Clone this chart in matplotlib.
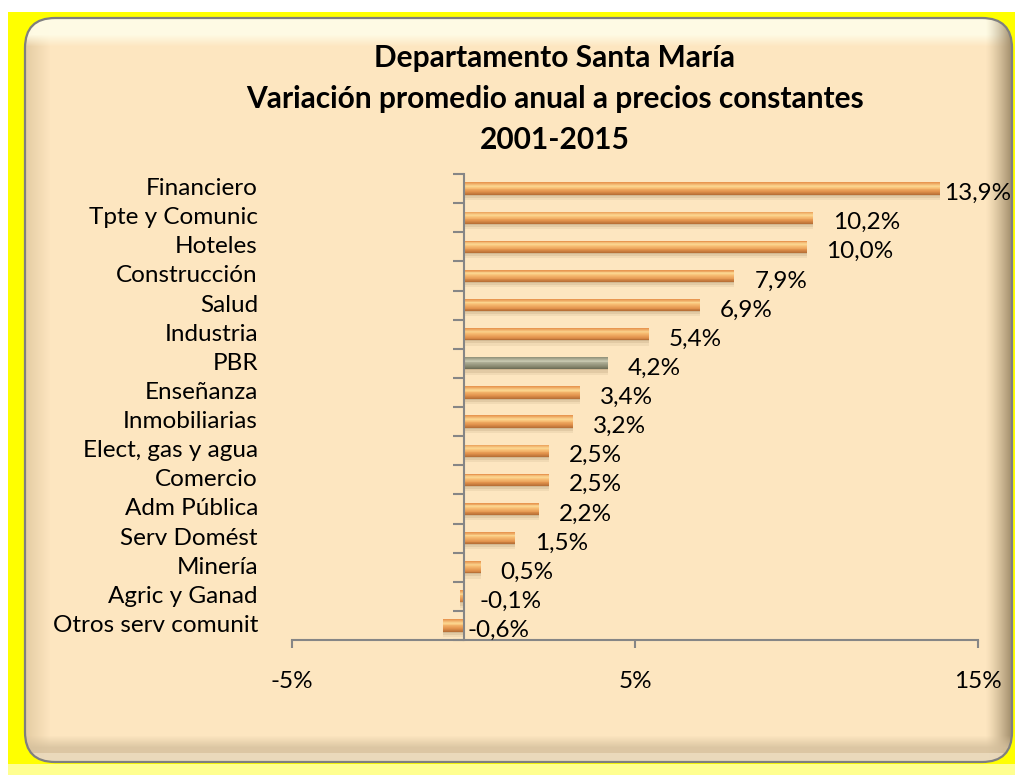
import matplotlib
matplotlib.use("Agg")
import matplotlib.pyplot as plt
import numpy as np
from matplotlib.patches import FancyBboxPatch, Rectangle
from matplotlib.transforms import blended_transform_factory
from matplotlib.colors import to_rgb, LinearSegmentedColormap

plt.rcParams['font.family'] = ['Lato', 'DejaVu Sans']

categories = ["Financiero", "Tpte y Comunic", "Hoteles", "Construcción", "Salud",
              "Industria", "PBR", "Enseñanza", "Inmobiliarias", "Elect, gas y agua",
              "Comercio", "Adm Pública", "Serv Domést", "Minería", "Agric y Ganad",
              "Otros serv comunit"]
values = [13.9, 10.2, 10.0, 7.9, 6.9, 5.4, 4.2, 3.4, 3.2, 2.5, 2.5, 2.2, 1.5, 0.5, -0.1, -0.6]
highlight = "PBR"
xticks = [-5, 5, 15]
xticklabels = ["-5%", "5%", "15%"]
title_lines = ["Departamento Santa María",
               "Variación promedio anual a precios constantes",
               "2001-2015"]

W, H = 1015, 775
fig = plt.figure(figsize=(W / 100, H / 100), dpi=100)
fig.patch.set_facecolor("white")

# ---------- background frame (pixel coordinates) ----------
bg = fig.add_axes([0, 0, 1, 1])
bg.axis("off")
bg.add_patch(Rectangle((8, 12), W - 8, H - 12, facecolor="#FFFF00", edgecolor="none"))
bg.add_patch(Rectangle((8, 764), W - 8, 11, facecolor="#FFFF90", edgecolor="none"))

fx0, fy0, fx1, fy1, rad = 25, 18, 1012, 762, 30
yy, xx = np.mgrid[0:H, 0:W].astype(float)
cream = np.array(to_rgb("#FDE6C0"))
img = np.ones((H, W, 3)) * cream


def blend(img, mask_w, col):
    c = np.array(to_rgb(col))
    w = np.clip(np.nan_to_num(mask_w), 0, 1)[..., None]
    return img * (1 - w) + c * w

img = blend(img, np.clip((50 - xx) / 24, 0, 1), "#E6CDA4")          # left bevel
img = blend(img, np.clip((46 - yy) / 12, 0, 1) * 0.95, "#FFFCE6")   # top highlight
img = blend(img, np.clip((xx - 985) / 27, 0, 1) ** 1.3, "#9E8A68")  # right shadow
img = blend(img, np.clip((yy - 735) / 12, 0, 1) * 0.8, "#D4BF9C")   # bottom bevel
img = blend(img, (yy > 752) * 0.6, "#F4E6CC")

frame = FancyBboxPatch((fx0 + rad, fy0 + rad), fx1 - fx0 - 2 * rad, fy1 - fy0 - 2 * rad,
                       boxstyle=f"round,pad={rad}", facecolor="none",
                       edgecolor="#7F7F7F", linewidth=1.6, zorder=3)
bg.add_patch(frame)
im = bg.imshow(img, extent=(0, W, H, 0), origin="upper", zorder=2,
               interpolation="bilinear", aspect="auto")
im.set_clip_path(frame)
bg.set_xlim(0, W)
bg.set_ylim(H, 0)

# ---------- main axes ----------
x0, x1 = 292, 978
ytop, ybot = 174, 640
ax = fig.add_axes([x0 / W, 1 - ybot / H, (x1 - x0) / W, (ybot - ytop) / H])
ax.set_facecolor("none")

n = len(categories)
ypos = np.arange(n)
vals = np.array(values)

orange_cm = LinearSegmentedColormap.from_list(
    "o", [(0, "#E58E48"), (0.3, "#FCD892"), (0.45, "#F7BC72"), (0.75, "#E2924C"), (1, "#B36B34")])
gray_cm = LinearSegmentedColormap.from_list(
    "g", [(0, "#8E8E76"), (0.3, "#CACAB2"), (0.45, "#AFAF97"), (0.75, "#88886F"), (1, "#5E5E49")])

bar_h = 0.42
for k, a in enumerate([0.12, 0.18, 0.25]):
    ax.barh(ypos + 0.12 + 0.04 * (2 - k), vals, height=bar_h * (0.9 - 0.15 * k),
            color="#A08460", alpha=a, edgecolor="none", zorder=1)
nstripe = 14
sh = bar_h / nstripe
for k in range(nstripe):
    f = (k + 0.5) / nstripe
    off = -bar_h / 2 + sh * (k + 0.5)
    cols = [gray_cm(f) if c == highlight else orange_cm(f) for c in categories]
    ax.barh(ypos + off, vals, height=sh * 1.05, color=cols, edgecolor="none", zorder=2)

ax.set_xlim(-5, 15)
ax.set_ylim(n - 0.5, -0.5)

for s in ["top", "right"]:
    ax.spines[s].set_visible(False)
ax.spines["left"].set_position(("data", 0))
for s in ["left", "bottom"]:
    ax.spines[s].set_color("#868686")
    ax.spines[s].set_linewidth(1.5)
ax.spines["left"].set_zorder(3)

ax.set_yticks(ypos)
ax.set_yticklabels([])
ax.tick_params(axis="y", which="major", length=0)
ax.set_yticks(np.arange(n + 1) - 0.5, minor=True)
ax.tick_params(axis="y", which="minor", length=8, width=1.5, color="#868686", direction="out")

ax.set_xticks(xticks)
ax.set_xticklabels(xticklabels, fontsize=17.5)
ax.tick_params(axis="x", length=6, width=1.5, color="#868686", pad=16)

tr = blended_transform_factory(ax.transAxes, ax.transData)
for i, c in enumerate(categories):
    ax.text(-0.0496, ypos[i], c, transform=tr, ha="right", va="center", fontsize=17.5)

for i, v in enumerate(values):
    lx = float(np.clip(v + 0.58, 0.12, 14.02))
    ax.text(lx, ypos[i] + 0.17, f"{v:.1f}%".replace(".", ","), ha="left", va="center",
            fontsize=17.5, zorder=4)

for j, t in enumerate(title_lines):
    fig.text(555 / W, 1 - (58 + 41 * j) / H, t, ha="center", va="center",
             fontsize=21.5, fontweight="bold")

fig.savefig("out.png", dpi=100, facecolor=fig.get_facecolor())
